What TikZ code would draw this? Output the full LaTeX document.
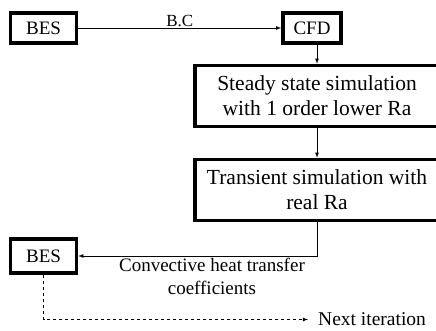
\documentclass[tikz,border=0pt]{standalone}
\usepackage{fontspec}
\setmainfont{Liberation Serif}
\usetikzlibrary{arrows,positioning,calc}

\tikzset{
  blockbox/.style={draw, line width=3.5pt, inner sep=0pt, align=center},
  smallbox/.style={blockbox, minimum width=66pt, minimum height=30pt, font=\fontsize{19}{23}\selectfont},
  bigbox/.style={blockbox, minimum width=244pt, minimum height=61pt, font=\fontsize{21.5}{25}\selectfont},
  flow/.style={-latex, line width=0.8pt},
  lbl/.style={font=\fontsize{19}{23}\selectfont, align=center}
}

\begin{document}
\begin{tikzpicture}[x=1pt, y=-1pt]
  \useasboundingbox (0,0) rectangle (436,331);
  % top row
  \node[smallbox] (bes1) at (43.5,28) {BES};
  \node[smallbox, minimum width=58pt] (cfd) at (312,28) {CFD};
  % simulation boxes
  \begin{scope}
    \clip (0,0) rectangle (436,331);
    \node[bigbox] (steady) at (317,96) {Steady state simulation\\with 1 order lower Ra};
    \node[bigbox] (trans) at (317,190) {Transient simulation with\\real Ra};
  \end{scope}
  % back to BES
  \node[smallbox, minimum height=34pt] (bes2) at (43.5,256) {BES};
  \node[lbl, anchor=west, inner sep=0pt, font=\fontsize{19.5}{23}\selectfont] (next) at (318,319.5) {Next iteration};
  % connectors
  \draw[flow] (bes1) -- node[lbl, above, inner sep=1pt, font=\fontsize{17}{20}\selectfont] {B.C} (cfd);
  \draw[flow] (cfd.south -| steady.north) -- (steady);
  \draw[flow] (steady) -- (trans);
  \draw[flow] (trans.south) |- node[lbl, below, pos=0.72, inner sep=2pt] {Convective heat transfer\\coefficients} (bes2.east);
  \draw[flow, dashed] (bes2.south) |- ($(next.west)+(-10,0)$);
\end{tikzpicture}
\end{document}
